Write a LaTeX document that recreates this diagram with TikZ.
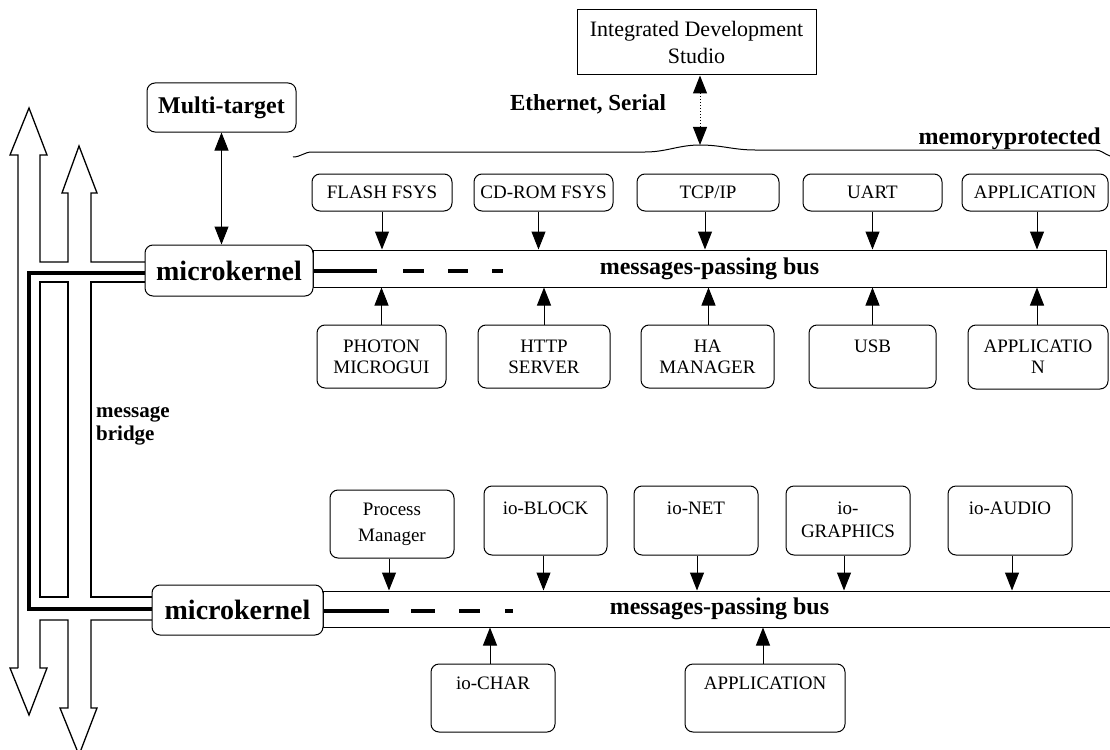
\documentclass[tikz,border=0pt]{standalone}
\usepackage{fontspec}
\setmainfont{Liberation Serif}
\usetikzlibrary{arrows.meta}
\begin{document}
\begin{tikzpicture}[x=1pt,y=-1pt,
  box/.style={draw, line width=1pt, rounded corners=8pt, fill=white, inner sep=0pt, align=center, font=\fontsize{19}{21}\selectfont},
  sqbox/.style={draw, line width=1pt, fill=white, inner sep=0pt, align=center, font=\fontsize{22}{27}\selectfont},
  lbl/.style={inner sep=0pt, align=center, font=\fontsize{19}{23}\selectfont},
  boldlbl/.style={inner sep=0pt, font=\bfseries\fontsize{23}{26}\selectfont},
  kernel/.style={box, font=\bfseries\fontsize{28}{30}\selectfont},
  bus/.style={draw, line width=1pt, inner sep=0pt, font=\bfseries\fontsize{24}{26}\selectfont},
  arr/.style={line width=1pt, -{Triangle[length=18pt,width=14pt]}},
  darr/.style={line width=1pt, {Triangle[length=18pt,width=14pt]}-{Triangle[length=18pt,width=14pt]}},
  heavy/.style={line width=4.5pt, line join=miter},
  wall/.style={line width=1.3pt, line join=miter},
]
\useasboundingbox[fill=white] (0,0) rectangle (1110,749);

% ---------- buses ----------
\node[bus, minimum width=793pt, minimum height=37pt] (bus1) at (709.5,268.5) {messages-passing bus};
\node[bus, minimum width=793pt, minimum height=36pt] (bus2) at (719.5,609) {messages-passing bus};

% thick dashed message path inside the buses
\draw[heavy] (313,271) -- (377,271);
\draw[heavy] (403,271) -- (424,271);
\draw[heavy] (448,271) -- (468,271);
\draw[heavy] (492,271) -- (503,271);
\draw[heavy] (323,611) -- (389,611);
\draw[heavy] (411,611) -- (435,611);
\draw[heavy] (459,611) -- (480,611);
\draw[heavy] (505,611) -- (513,611);

% ---------- left hollow arrows (message bridge) ----------
\draw[wall] (18,668) -- (18,155) -- (10,155) -- (29,108) -- (47,155) -- (40,155)
  -- (40,262) -- (68,262) -- (68,193) -- (62,193) -- (79,146) -- (97,193) -- (91,193)
  -- (91,262) -- (146,262);
\draw[wall] (40,282) -- (68,282) -- (68,597) -- (40,597) -- cycle;
\draw[wall] (146,282) -- (91,282) -- (91,597) -- (153,597);
\draw[wall] (18,668) -- (10,668) -- (29,715) -- (47,668) -- (40,668) -- (40,620)
  -- (68,620) -- (68,708) -- (60,708) -- (79,755) -- (97,708) -- (91,708) -- (91,620) -- (153,620);
\draw[heavy] (146,273) -- (29,273) -- (29,609) -- (153,609);

% ---------- microkernels ----------
\node[kernel, minimum width=168pt, minimum height=51pt] (mk1) at (229,270.5) {microkernel};
\node[kernel, minimum width=171pt, minimum height=50pt] (mk2) at (237.5,610) {microkernel};

% ---------- Multi-target ----------
\node[box, font=\bfseries\fontsize{24}{26}\selectfont, minimum width=149pt, minimum height=49pt] (multi) at (221.5,107.5) {Multi-target};
\draw[darr] (multi.south) -- (multi.south |- mk1.north);

% ---------- IDE ----------
\node[sqbox, minimum width=239pt, minimum height=65pt] (ide) at (696.5,42.5) {Integrated Development\\Studio};
\coordinate (memtop) at (700,145);
\draw[darr, dotted] (ide.south -| memtop) -- (memtop);
\node[boldlbl] (eth) at (588,104) {Ethernet, Serial};

% memory protected line
\draw[line width=1pt] (293,157) to[out=0,in=180] (312,152) -- (645,152)
  to[out=0,in=180] (700,145) to[out=0,in=180] (755,150) -- (1095,150) to[out=0,in=160] (1110,156);
\node[boldlbl, font=\bfseries\fontsize{24}{26}\selectfont, anchor=east] (memprot) at (1101,139) {memoryprotected};

% ---------- upper row above bus 1 ----------
\node[box, minimum width=140pt, minimum height=37pt] (flash) at (382,192.5) {FLASH FSYS};
\node[box, minimum width=139pt, minimum height=37pt] (cdrom) at (543.5,192.5) {CD-ROM FSYS};
\node[box, minimum width=142pt, minimum height=37pt] (tcp) at (708,192.5) {TCP/IP};
\node[box, minimum width=139pt, minimum height=37pt] (uart) at (872.5,192.5) {UART};
\node[box, minimum width=146pt, minimum height=37pt] (app1) at (1035,192.5) {APPLICATION};

\draw[arr] ([xshift=0pt]flash.south) -- ([xshift=0pt]flash.south |- bus1.north);
\draw[arr] ([xshift=-5pt]cdrom.south) -- ([xshift=-5pt]cdrom.south |- bus1.north);
\draw[arr] ([xshift=-3pt]tcp.south) -- ([xshift=-3pt]tcp.south |- bus1.north);
\draw[arr] (uart.south) -- (uart.south |- bus1.north);
\draw[arr] ([xshift=2pt]app1.south) -- ([xshift=2pt]app1.south |- bus1.north);

% ---------- lower row below bus 1 ----------
\node[box, minimum width=129pt, minimum height=63pt] (photon) at (381.5,356.5) {PHOTON\\MICROGUI};
\node[box, minimum width=132pt, minimum height=63pt] (http) at (544,356.5) {HTTP\\SERVER};
\node[box, minimum width=133pt, minimum height=63pt] (ha) at (707.5,356.5) {HA\\MANAGER};
\node[box, minimum width=127pt, minimum height=63pt] (usb) at (872.5,356.5) {};
\node[lbl] (usbt) at (872.5,346) {USB};
\node[box, minimum width=140pt, minimum height=64pt] (app2) at (1038,357) {APPLICATIO\\N};

\draw[arr] (photon.north) -- (photon.north |- bus1.south);
\draw[arr] (http.north) -- (http.north |- bus1.south);
\draw[arr] ([xshift=1pt]ha.north) -- ([xshift=1pt]ha.north |- bus1.south);
\draw[arr] (usb.north) -- (usb.north |- bus1.south);
\draw[arr] ([xshift=-1pt]app2.north) -- ([xshift=-1pt]app2.north |- bus1.south);

% ---------- upper row above bus 2 ----------
\node[box, minimum width=124pt, minimum height=68pt, font=\fontsize{19}{26}\selectfont] (pm) at (392,524) {Process\\Manager};
\node[box, minimum width=123pt, minimum height=69pt] (ioblock) at (545.5,520.5) {};
\node[lbl] (ioblockt) at (545.5,508) {io-BLOCK};
\node[box, minimum width=124pt, minimum height=69pt] (ionet) at (696,520.5) {};
\node[lbl] (ionett) at (696,508) {io-NET};
\node[box, minimum width=124pt, minimum height=69pt] (iogfx) at (848,520.5) {};
\node[lbl] (iogfxt) at (848,520) {io-\\GRAPHICS};
\node[box, minimum width=124pt, minimum height=69pt] (ioaudio) at (1010,520.5) {};
\node[lbl] (ioaudiot) at (1010,508) {io-AUDIO};

\draw[arr] ([xshift=-3pt]pm.south) -- ([xshift=-3pt]pm.south |- bus2.north);
\draw[arr] ([xshift=-2pt]ioblock.south) -- ([xshift=-2pt]ioblock.south |- bus2.north);
\draw[arr] ([xshift=1pt]ionet.south) -- ([xshift=1pt]ionet.south |- bus2.north);
\draw[arr] ([xshift=-4pt]iogfx.south) -- ([xshift=-4pt]iogfx.south |- bus2.north);
\draw[arr] ([xshift=2pt]ioaudio.south) -- ([xshift=2pt]ioaudio.south |- bus2.north);

% ---------- lower row below bus 2 ----------
\node[box, minimum width=124pt, minimum height=68pt] (iochar) at (493,698) {};
\node[lbl] (iochart) at (493,683) {io-CHAR};
\node[box, minimum width=160pt, minimum height=68pt] (app3) at (765,698) {};
\node[lbl] (app3t) at (765,683) {APPLICATION};

\draw[arr] ([xshift=-3pt]iochar.north) -- ([xshift=-3pt]iochar.north |- bus2.south);
\draw[arr] ([xshift=-2pt]app3.north) -- ([xshift=-2pt]app3.north |- bus2.south);

% ---------- message bridge label ----------
\node[inner sep=0pt, align=left, anchor=west, font=\bfseries\fontsize{21}{23}\selectfont] (bridge) at (96,426) {message\\bridge};

\end{tikzpicture}
\end{document}
